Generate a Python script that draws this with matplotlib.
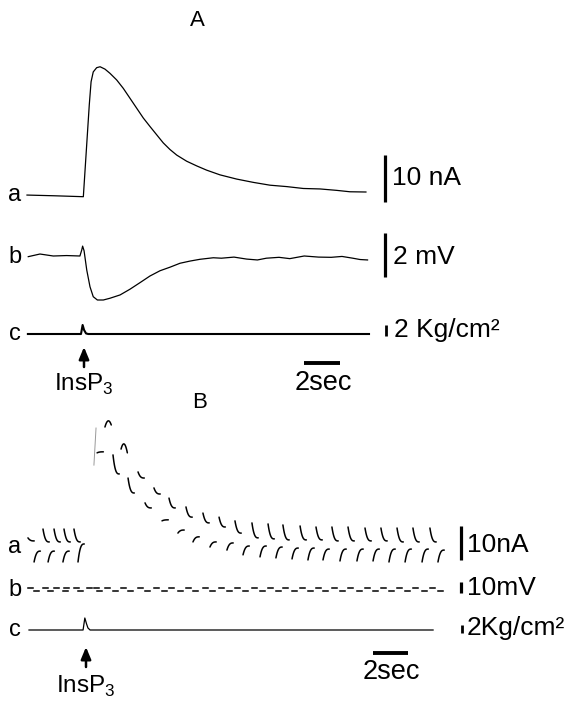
import numpy as np
import matplotlib
matplotlib.use("Agg")
import matplotlib.pyplot as plt

W, H, DPI = 576, 702, 100
plt.rcParams['font.family'] = ['Liberation Sans', 'DejaVu Sans']

# ---------------- Panel A: continuous recordings ----------------
# a: membrane current (nA)
A_a_t = [0.0, 1.5, 3.13, 3.46, 3.56, 3.68, 3.87, 4.06, 4.33, 4.61, 4.98, 5.35, 5.72,
         6.09, 6.46, 6.83, 7.21, 7.57, 7.94, 8.32, 8.87, 9.43, 9.98, 10.72, 11.65,
         12.57, 13.5, 14.43, 15.35, 16.28, 17.2, 17.94, 18.83]
A_a_nA = [0.2, 0.05, -0.15, 19.4, 24.3, 26.4, 27.3, 27.5, 27.0, 26.1, 24.7, 22.9, 20.8,
          18.7, 16.6, 14.8, 13.0, 11.3, 9.9, 8.7, 7.4, 6.4, 5.5, 4.5, 3.6,
          2.9, 2.3, 2.0, 1.6, 1.5, 1.2, 0.9, 0.85]
# b: membrane potential (mV)
A_b_t = [0.07, 0.72, 1.46, 2.2, 2.94, 3.04, 3.09, 3.17, 3.32, 3.5, 3.68, 3.91, 4.24,
         4.61, 5.17, 5.72, 6.28, 6.83, 7.39, 7.94, 8.5, 9.06, 9.61, 10.35, 10.8,
         11.5, 12.2, 12.8, 13.3, 14.0, 14.6, 15.4, 16.2, 16.9, 17.5, 18.1, 18.5, 18.92]
A_b_mV = [-0.03, 0.09, 0.0, 0.02, 0.0, 0.27, 0.45, 0.24, -0.64, -1.40, -1.85, -2.0, -2.0,
          -1.92, -1.77, -1.51, -1.21, -0.91, -0.67, -0.51, -0.33, -0.23, -0.15, -0.08, -0.1,
          -0.05, -0.14, -0.18, -0.1, -0.06, -0.12, 0.0, -0.05, -0.06, -0.02, -0.1, -0.16, -0.18]
# c: injection pressure (Kg/cm2)
A_c_t = [0.05, 3.0, 3.09, 3.17, 3.28, 3.4, 19.0]
A_c_kg = [0.0, 0.0, 1.64, 0.73, 0.1, 0.0, 0.0]

# ---------------- Panel B: pulsed recordings ----------------
# a: current strokes during the high half of each command pulse (start s, start nA, end nA)
B_up_t = [-0.06, 0.80, 1.43, 2.00, 2.57, 6.23, 7.14, 8.00, 8.97, 9.94, 10.86, 11.77, 12.74,
          13.66, 14.51, 15.49, 16.40, 17.31, 18.23, 19.20, 20.11, 21.03, 21.94, 22.91]
B_up_v0 = [2.1, 4.7, 4.7, 4.7, 4.7, 21.5, 16.8, 13.8, 11.2, 9.4, 8.2, 7.1, 6.5,
           6.2, 5.9, 5.6, 5.3, 5.3, 5.3, 5.0, 5.0, 5.0, 5.0, 5.0]
B_up_v1 = [1.2, 0.9, 0.9, 0.9, 0.9, 19.7, 15.0, 10.9, 8.2, 6.5, 5.3, 3.5, 2.1,
           1.8, 1.5, 1.5, 1.5, 1.2, 1.2, 1.2, 1.2, 0.9, 0.9, 0.9]
# crest strokes near the peak of the response (start, value, peak, end)
B_crest_t = [4.34, 5.26]
B_crest_v0 = [34.7, 28.2]
B_crest_vp = [36.5, 29.7]
B_crest_v1 = [35.3, 27.1]
# current strokes during the low half of each command pulse
B_dn_t = [0.29, 1.09, 1.94, 2.80, 3.89, 4.80, 5.66, 6.63, 7.60, 8.51, 9.37, 10.34, 11.31,
          12.23, 13.20, 14.11, 15.03, 15.94, 16.80, 17.77, 18.74, 19.66, 20.57, 21.49,
          22.46, 23.37]
B_dn_v0 = [-5.0, -5.0, -5.0, -5.0, 27.1, 26.5, 19.7, 12.4, 7.1, 3.5, 0.9, -0.6, -1.5,
           -2.9, -3.5, -3.8, -4.1, -4.4, -4.4, -4.7, -4.7, -4.7, -5.0, -5.0, -5.0, -5.0]
B_dn_v1 = [-1.8, -1.8, -1.8, 0.3, 27.4, 20.9, 15.3, 10.9, 7.4, 4.4, 2.4, 0.9, 0.6,
           -0.3, -0.3, -0.6, -0.9, -0.9, -1.2, -1.2, -1.2, -1.2, -1.2, -1.2, -1.2, -1.5]
# fast rising stroke at the onset of the response
B_onset_t = [3.71, 3.83]
B_onset_nA = [23.5, 34.4]
# b: command potential, start of each high / low level (s) and the levels (mV)
B_b_hi_t = [-0.06, 0.80, 1.43, 2.00, 2.57, 3.30, 3.71, 4.34, 5.26, 6.23, 7.14, 8.00, 8.97,
            9.94, 10.86, 11.77, 12.74, 13.66, 14.51, 15.49, 16.40, 17.31, 18.23, 19.20,
            20.11, 21.03, 21.94, 22.91]
B_b_lo_t = B_dn_t
B_b_hi, B_b_lo = 1.5, -1.5
# c: injection pressure (Kg/cm2)
B_c_t = [0.0, 3.09, 3.19, 3.29, 3.37, 3.49, 23.09]
B_c_kg = [0.0, 0.0, 3.0, 1.5, 0.5, 0.0, 0.0]

STROKE = 0.36   # visible part of each half pulse (s)
DASH = 0.30     # visible part of each command level (s)

fig = plt.figure(figsize=(W / DPI, H / DPI), dpi=DPI)
fig.patch.set_facecolor('white')


def trace_axes(x0_px, px_per_s, zero_px, px_per_unit):
    """Transparent full-figure axes with a pixel-linear time/unit scale."""
    ax = fig.add_axes([0, 0, 1, 1], frameon=False)
    ax.set_axis_off()
    ax.set_xlim(-x0_px / px_per_s, (W - x0_px) / px_per_s)
    ax.set_ylim((zero_px - H) / px_per_unit, zero_px / px_per_unit)
    return ax


def px_to_data(ax, x, y):
    inv = ax.transData.inverted()
    return inv.transform((x, H - y))


def label(x, y, s, size=18, ha='left', va='center', **kw):
    fig.text(x / W, 1 - y / H, s, fontsize=size, ha=ha, va=va, **kw)


def vbar(ax, x, y_bottom, length, lw=2.3):
    t, v = px_to_data(ax, x, y_bottom)
    ax.plot([t, t], [v, v + length], color='black', lw=lw, solid_capstyle='butt')


def hbar(ax, x, y, seconds, lw=2.8):
    t, v = px_to_data(ax, x, y)
    ax.plot([t, t + seconds], [v, v], color='black', lw=lw, solid_capstyle='butt')


def arrow(ax, x, y_tail, y_head):
    t, v0 = px_to_data(ax, x, y_tail)
    _, v1 = px_to_data(ax, x, y_head)
    ax.annotate('', xy=(t, v1), xytext=(t, v0),
                arrowprops=dict(arrowstyle='-|>,head_length=0.6,head_width=0.25',
                                color='black', lw=1.8, shrinkA=0, shrinkB=0,
                                mutation_scale=12))


# ---- Panel A ----
axA_a = trace_axes(27, 18.0, 196, 4.7)
axA_b = trace_axes(27, 18.0, 256, 22.0)
axA_c = trace_axes(27, 18.0, 334, 5.5)

axA_a.plot(A_a_t, A_a_nA, color='black', lw=0.9)
axA_b.plot(A_b_t, A_b_mV, color='black', lw=0.9)
axA_c.plot(A_c_t, A_c_kg, color='black', lw=1.5)

vbar(axA_a, 385, 202, 10)
vbar(axA_b, 385, 277, 2)
vbar(axA_c, 386, 336, 2, lw=2.0)
hbar(axA_c, 304, 363, 2)
arrow(axA_c, 84, 367, 347)

label(197, 20, 'A', size=16, ha='center')
for s, y in zip('abc', [195, 257, 334]):
    label(15, y, s, size=17, ha='center')
label(392, 178, '10 nA', size=19)
label(393, 257, '2 mV', size=19)
label(394, 330, '2 Kg/cm²', size=19)
label(323, 383, '2sec', size=19.5, ha='center')
label(84, 384, r'InsP$_{\mathregular{3}}$', size=17.5, ha='center')

# ---- Panel B ----
axB_a = trace_axes(29, 17.5, 545, 3.4)
axB_b = trace_axes(29, 17.5, 589.5, 1.1)
axB_c = trace_axes(29, 17.5, 630, 4.0)

s = np.linspace(0, 1, 25)
ease = 1 - (1 - s) ** 3
for t0, v0, v1 in zip(B_up_t + B_dn_t, B_up_v0 + B_dn_v0, B_up_v1 + B_dn_v1):
    axB_a.plot(t0 + STROKE * s, v0 + (v1 - v0) * ease, color='black', lw=1.1,
               solid_capstyle='round')
for t0, v0, vp, v1 in zip(B_crest_t, B_crest_v0, B_crest_vp, B_crest_v1):
    coef = np.polyfit([0, 0.5, 1], [v0, vp, v1], 2)
    axB_a.plot(t0 + STROKE * s, np.polyval(coef, s), color='black', lw=1.1,
               solid_capstyle='round')
axB_a.plot(B_onset_t, B_onset_nA, color='0.6', lw=0.7)

# command potential: one short level per half pulse
for t0 in B_b_hi_t:
    axB_b.plot([t0, t0 + DASH], [B_b_hi, B_b_hi], color='black', lw=1.1)
for t0 in B_b_lo_t:
    axB_b.plot([t0, t0 + DASH], [B_b_lo, B_b_lo], color='black', lw=1.1)

axB_c.plot(B_c_t, B_c_kg, color='black', lw=0.9)

vbar(axB_a, 461, 560, 10)
vbar(axB_b, 461, 593, 10)
vbar(axB_c, 462, 633, 2, lw=2.0)
hbar(axB_c, 373, 653, 2)
arrow(axB_c, 86, 667, 647)

label(200, 402, 'B', size=16, ha='center')
for s_, y in zip('abc', [547, 590, 630]):
    label(15, y, s_, size=17, ha='center')
label(467, 545, '10nA', size=19)
label(467, 588, '10mV', size=19)
label(467, 628, '2Kg/cm²', size=19)
label(391, 672, '2sec', size=19.5, ha='center')
label(86, 686, r'InsP$_{\mathregular{3}}$', size=17.5, ha='center')

fig.savefig('out.png', dpi=DPI, facecolor='white')
